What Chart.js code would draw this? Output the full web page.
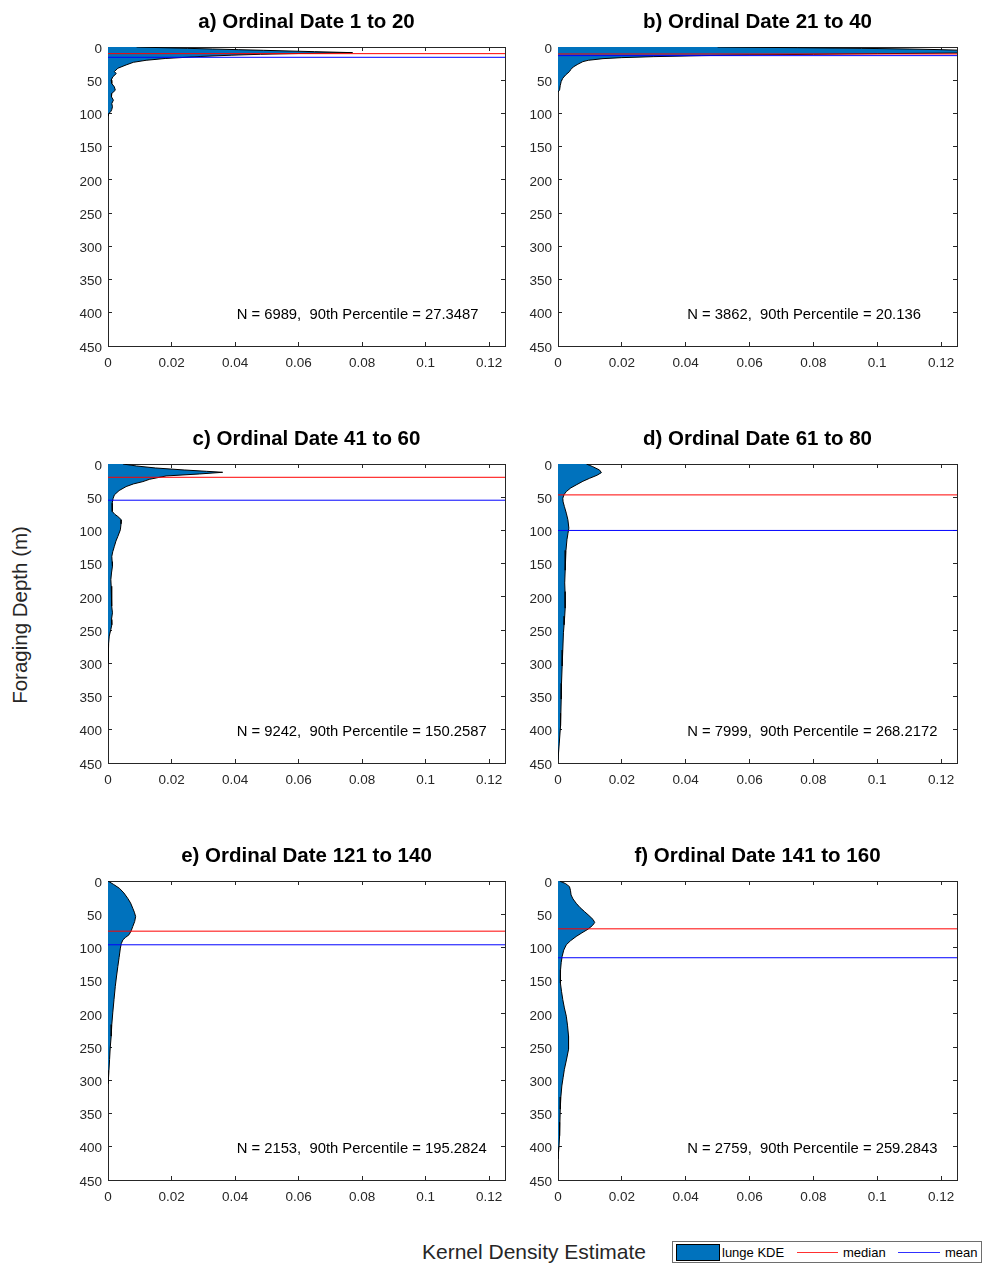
<!DOCTYPE html>
<html>
<head>
<meta charset="utf-8">
<title>Foraging depth kernel density by ordinal date</title>
<script src="https://cdn.jsdelivr.net/npm/chart.js@4.4.1/dist/chart.umd.min.js"></script>
<style>
  html, body { margin: 0; padding: 0; background: #fff; }
  body { width: 984px; height: 1264px; position: relative; overflow: hidden;
         font-family: "Liberation Sans", Arial, Helvetica, sans-serif; }
  canvas.panel { position: absolute; }
  #ylabel { position: absolute; left: 20px; top: 615px; transform: translate(-50%, -50%) rotate(-90deg);
            font-size: 20.5px; color: #262626; white-space: nowrap; }
  #xlabel { position: absolute; left: 534px; top: 1252px; transform: translate(-50%, -50%);
            font-size: 21px; color: #262626; white-space: nowrap; }
  #legend { position: absolute; left: 672px; top: 1241px; width: 310px; height: 22px; box-sizing: border-box;
            border: 1px solid #6e6e6e; background: #fff; font-size: 13px; color: #000; }
  #legend .patch { position: absolute; left: 3px; top: 2px; width: 44px; height: 17px; box-sizing: border-box;
                   background: rgb(0,114,189); border: 1px solid #000; }
  #legend .txt { position: absolute; top: 10px; transform: translateY(-50%); white-space: nowrap; }
  #legend .ln { position: absolute; top: 10px; height: 1px; }
</style>
</head>
<body>
<div id="ylabel">Foraging Depth (m)</div>
<div id="xlabel">Kernel Density Estimate</div>
<div id="legend">
  <div class="patch"></div>
  <span class="txt" style="left:49px">lunge KDE</span>
  <div class="ln" style="left:124px;width:41px;background:#ff3030"></div>
  <span class="txt" style="left:170px">median</span>
  <div class="ln" style="left:225px;width:42px;background:#3030ff"></div>
  <span class="txt" style="left:272px">mean</span>
</div>
<script>
// ---- panel labels and summary values ----
const panelTitles = [
  'a) Ordinal Date 1 to 20', 'b) Ordinal Date 21 to 40',
  'c) Ordinal Date 41 to 60', 'd) Ordinal Date 61 to 80',
  'e) Ordinal Date 121 to 140', 'f) Ordinal Date 141 to 160'
];
const sampleSizes = [6989, 3862, 9242, 7999, 2153, 2759];
const percentile90 = ['27.3487', '20.136', '150.2587', '268.2172', '195.2824', '259.2843'];
const medianDepths = [10, 10.5, 20, 46.5, 75.5, 72];
const meanDepths = [15.5, 13, 54.5, 100, 96, 115.5];

// ---- axis ticks ----
const depthTicks = [0, 50, 100, 150, 200, 250, 300, 350, 400, 450];
const depthTickLabels = ['0', '50', '100', '150', '200', '250', '300', '350', '400', '450'];
const densityTicks = [0, 0.02, 0.04, 0.06, 0.08, 0.1, 0.12];
const densityTickLabels = ['0', '0.02', '0.04', '0.06', '0.08', '0.1', '0.12'];

// ---- kernel density estimates (depth in m, density) ----
const kdeDepthA = [0, 1, 2, 3, 4, 5, 6, 7, 8.5, 9.8, 11, 12.3, 14.3, 17.3, 20, 23, 27, 32, 37, 40, 45, 50, 55, 60, 65, 70, 75, 80, 85, 90, 94, 97, 100, 104];
const kdeDensityA = [0.009, 0.017, 0.025, 0.033, 0.041, 0.049, 0.057, 0.065, 0.077, 0.060, 0.048, 0.039, 0.029, 0.018, 0.012, 0.008, 0.0057, 0.0031, 0.002, 0.0026, 0.0015, 0.001, 0.0012, 0.002, 0.0023, 0.0012, 0.0011, 0.0017, 0.0012, 0.0014, 0.0012, 0.0009, 0.0003, 0];

const kdeDepthB = [0, 1, 2, 3, 4, 5, 6, 7, 8, 9, 10, 11, 12, 13, 14.5, 16, 17.5, 20, 22, 26, 30, 34, 37, 42, 47, 52, 58, 64.5, 68];
const kdeDensityB = [0.05, 0.075, 0.095, 0.11, 0.12, 0.127, 0.135, 0.138, 0.134, 0.128, 0.1, 0.08, 0.06, 0.045, 0.03, 0.02, 0.0141, 0.0095, 0.0078, 0.0062, 0.0048, 0.004, 0.0036, 0.0024, 0.0015, 0.001, 0.0007, 0.0005, 0];

const kdeDepthC = [0, 3, 6, 9, 11, 12.5, 15, 18, 23, 26.5, 30, 34, 40, 46.5, 52, 59, 65, 71.5, 76, 79, 84, 90, 99, 109, 116, 124, 132, 139, 147, 154, 164, 174, 184, 194, 204, 214, 224, 234, 242, 249, 259, 270, 285, 300];
const kdeDensityC = [0.0047, 0.009, 0.015, 0.024, 0.031, 0.0361, 0.0288, 0.0183, 0.0131, 0.011, 0.008, 0.0057, 0.0035, 0.002, 0.0016, 0.0013, 0.0013, 0.0014, 0.0022, 0.0031, 0.0042, 0.0041, 0.0039, 0.0031, 0.0025, 0.002, 0.0015, 0.0012, 0.0013, 0.0014, 0.0011, 0.0009, 0.001, 0.0012, 0.0011, 0.0012, 0.0014, 0.0011, 0.0012, 0.0009, 0.0004, 0.0002, 0.0001, 0];

const kdeDepthD = [0, 4, 9, 13, 17, 21.5, 26, 31.5, 36, 41.5, 46, 51.5, 57, 64, 74, 84, 96.5, 105, 114, 130, 144, 160, 179, 192, 204, 217, 229, 242, 254, 280, 304, 330, 354, 375, 394, 420, 445];
const kdeDensityD = [0.0089, 0.0109, 0.013, 0.0136, 0.0122, 0.0099, 0.0078, 0.0057, 0.004, 0.0026, 0.0019, 0.0015, 0.0016, 0.002, 0.0026, 0.0031, 0.0034, 0.0031, 0.0028, 0.0025, 0.0023, 0.0022, 0.0021, 0.0022, 0.0023, 0.0022, 0.0021, 0.0019, 0.0017, 0.0015, 0.0013, 0.0011, 0.001, 0.0009, 0.0008, 0.0004, 0];

const kdeDepthE = [0, 5, 11, 18, 26, 33, 41, 47, 53.5, 61, 68.5, 75, 81, 85, 88.5, 94, 101, 115, 128.5, 143, 158.5, 178, 198.5, 216, 233.5, 251, 268.5, 285, 298.5, 305];
const kdeDensityE = [0, 0.0017, 0.0036, 0.005, 0.0062, 0.0071, 0.0078, 0.0083, 0.0087, 0.0084, 0.0078, 0.0073, 0.0066, 0.0055, 0.0047, 0.0042, 0.0039, 0.0035, 0.0031, 0.0027, 0.0023, 0.0019, 0.0015, 0.0012, 0.001, 0.0007, 0.0005, 0.0003, 0.0001, 0];

const kdeDepthF = [0, 4, 8.5, 14, 21, 27, 33.5, 40, 46, 52, 58, 62.5, 67, 72.5, 78, 83.5, 90, 96, 104, 113.5, 123, 133.5, 143, 153.5, 166, 178.5, 191, 203.5, 218, 233.5, 243, 253.5, 268, 283.5, 296, 308.5, 325, 343.5, 363, 383.5, 400, 418];
const kdeDensityF = [0.0005, 0.0024, 0.0036, 0.0039, 0.0041, 0.0047, 0.0057, 0.0069, 0.0083, 0.0097, 0.011, 0.0115, 0.0108, 0.0094, 0.0075, 0.0057, 0.0039, 0.0026, 0.0018, 0.0013, 0.001, 0.0008, 0.0007, 0.0008, 0.0011, 0.0015, 0.002, 0.0026, 0.003, 0.0033, 0.0034, 0.0032, 0.0027, 0.002, 0.0016, 0.0012, 0.0009, 0.0007, 0.0006, 0.0005, 0.0003, 0];

const kdeDepths = [kdeDepthA, kdeDepthB, kdeDepthC, kdeDepthD, kdeDepthE, kdeDepthF];
const kdeDensities = [kdeDensityA, kdeDensityB, kdeDensityC, kdeDensityD, kdeDensityE, kdeDensityF];

// ---- page layout of the six panels ----
const DENSITY_MAX = 0.125;
const DEPTH_MAX = 450;
const panelBoxes = [
  { left: 40, top: 0, padRight: 15 }, { left: 490, top: 0, padRight: 13 },
  { left: 40, top: 417, padRight: 15 }, { left: 490, top: 417, padRight: 13 },
  { left: 40, top: 834, padRight: 15 }, { left: 490, top: 834, padRight: 13 }
];
const NOTE_X = 0.0405;     // density where the note text starts
const NOTE_DEPTH = 403;    // depth of the note's centre line

const AXIS_COLOR = '#262626';
const FONT = '"Liberation Sans", Arial, Helvetica, sans-serif';
Chart.defaults.font.family = FONT;

// Draws the sample-size / percentile note inside the plot area.
const notePlugin = {
  id: 'panelNote',
  afterDatasetsDraw(chart, args, opts) {
    if (!opts || !opts.text) return;
    const { ctx, scales } = chart;
    ctx.save();
    ctx.font = '14.8px ' + FONT;
    ctx.fillStyle = '#000';
    ctx.textAlign = 'left';
    ctx.textBaseline = 'middle';
    ctx.fillText(opts.text, scales.x.getPixelForValue(opts.x), scales.y.getPixelForValue(opts.y));
    ctx.restore();
  }
};

function tickList(values) { return values.map(v => ({ value: v })); }

function boxAxis(extra) {
  return Object.assign({
    type: 'linear',
    display: true,
    grid: { drawOnChartArea: false, tickLength: -4, color: AXIS_COLOR, lineWidth: 1 },
    border: { display: true, color: AXIS_COLOR, width: 1 }
  }, extra);
}

panelTitles.forEach((title, p) => {
  const box = panelBoxes[p];
  const canvas = document.createElement('canvas');
  canvas.className = 'panel';
  canvas.width = 480;
  canvas.height = 380;
  canvas.style.left = box.left + 'px';
  canvas.style.top = box.top + 'px';
  document.body.appendChild(canvas);

  const kdePoints = kdeDepths[p].map((d, i) => ({ x: kdeDensities[p][i], y: d }));

  new Chart(canvas, {
    type: 'line',
    data: {
      datasets: [
        { label: 'median', data: [{ x: 0, y: medianDepths[p] }, { x: DENSITY_MAX, y: medianDepths[p] }],
          borderColor: '#ff0000', borderWidth: 1, pointRadius: 0, fill: false },
        { label: 'mean', data: [{ x: 0, y: meanDepths[p] }, { x: DENSITY_MAX, y: meanDepths[p] }],
          borderColor: '#0000ff', borderWidth: 1, pointRadius: 0, fill: false },
        { label: 'lunge KDE', data: kdePoints, borderColor: '#000', borderWidth: 1,
          backgroundColor: 'rgb(0,114,189)', fill: 'origin', pointRadius: 0, tension: 0 }
      ]
    },
    options: {
      indexAxis: 'y',
      responsive: false,
      animation: false,
      devicePixelRatio: 1,
      layout: { padding: { left: 0, right: box.padRight, top: 0, bottom: 0 } },
      plugins: {
        legend: { display: false },
        tooltip: { enabled: false },
        title: {
          display: true, text: title, color: '#000', fullSize: false,
          font: { size: 20.5, weight: 'bold' }, padding: { top: 9.7, bottom: 12.7 }
        },
        panelNote: {
          text: 'N = ' + sampleSizes[p] + ',  90th Percentile = ' + percentile90[p],
          x: NOTE_X, y: NOTE_DEPTH
        }
      },
      scales: {
        x: boxAxis({
          position: 'bottom', min: 0, max: DENSITY_MAX,
          afterBuildTicks: s => { s.ticks = tickList(densityTicks); },
          afterFit: s => { s.height = 34; },
          ticks: { callback: (v, i) => densityTickLabels[i], color: AXIS_COLOR, font: { size: 13.5 },
                   padding: 13, maxRotation: 0, autoSkip: false }
        }),
        y: boxAxis({
          position: 'left', min: 0, max: DEPTH_MAX, reverse: true,
          afterBuildTicks: s => { s.ticks = tickList(depthTicks); },
          afterFit: s => { s.width = 68; },
          ticks: { callback: (v, i) => depthTickLabels[i], color: AXIS_COLOR, font: { size: 13.5 },
                   padding: 10, labelOffset: 2, autoSkip: false }
        }),
        x2: boxAxis({
          position: 'top', min: 0, max: DENSITY_MAX,
          afterBuildTicks: s => { s.ticks = tickList(densityTicks); },
          afterFit: s => { s.height = 0; },
          ticks: { display: false }
        }),
        y2: boxAxis({
          position: 'right', min: 0, max: DEPTH_MAX, reverse: true,
          afterBuildTicks: s => { s.ticks = tickList(depthTicks); },
          afterFit: s => { s.width = 0; },
          ticks: { display: false }
        })
      }
    },
    plugins: [notePlugin]
  });
});
</script>
</body>
</html>
